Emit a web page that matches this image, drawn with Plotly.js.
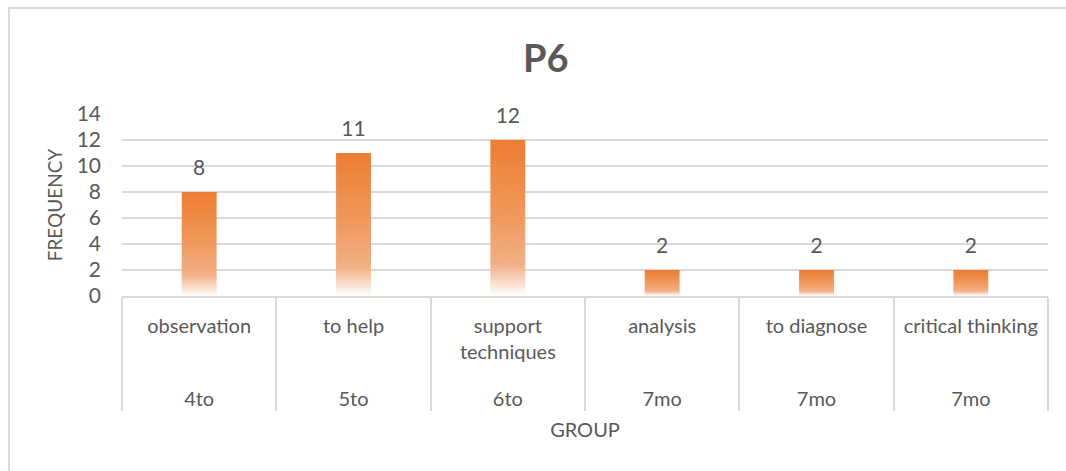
<!DOCTYPE html>
<html>
<head>
<meta charset="utf-8">
<script src="https://cdn.plot.ly/plotly-3.0.1.min.js"></script>
<style>
  html, body { margin: 0; padding: 0; background: #fff; }
  #wrap { position: relative; width: 1066px; height: 471px; overflow: hidden; }
  #chart { position: absolute; left: 0; top: 0; width: 1066px; height: 471px; }
  #frame { position: absolute; left: 8px; top: 7px; width: 1100px; height: 500px;
           border: 2px solid #D9D9D9; pointer-events: none; box-sizing: border-box; }
</style>
</head>
<body>
<div id="wrap">
  <div id="chart"></div>
  <div id="frame"></div>
</div>
<script>
// ---- data ----
const groups = ["4to", "5to", "6to", "7mo", "7mo\u200b", "7mo\u200b\u200b"];
const categories = ["observation", "to help", "support<br>techniques", "analysis", "to diagnose", "critical thinking"];
const frequency = [8, 11, 12, 2, 2, 2];
const chartTitle = "P6";
const yTitle = "FREQUENCY";
const xTitle = "GROUP";

const textColor = "#595959";
const fontFam = "Lato, 'Liberation Sans', sans-serif";

// pad inner labels so the outer level sits lower (as in the reference)
const padLine = "<br><span style='font-size:48px'>\u00a0</span>";
const innerLabels = categories.map(c => c.indexOf("<br>") >= 0 ? c + padLine : c + "<br>\u00a0" + padLine);

const bars = {
  type: "bar",
  x: [groups, innerLabels],
  y: frequency,
  marker: { color: "#ED7D31", line: { width: 0 } },
  hoverinfo: "skip"
};
const labels = {
  type: "scatter",
  mode: "markers+text",
  x: [groups, innerLabels],
  y: frequency,
  text: frequency.map(v => String(v)),
  textposition: "top center",
  marker: { size: 18, opacity: 0, color: "#ffffff" },
  textfont: { family: fontFam, size: 21, color: textColor },
  hoverinfo: "skip",
  cliponaxis: false
};

const layout = {
  width: 1066, height: 471,
  margin: { l: 122, r: 18, t: 114, b: 175 },
  paper_bgcolor: "rgba(0,0,0,0)",
  plot_bgcolor: "#fff",
  showlegend: false,
  bargap: 0.774,
  font: { family: fontFam, color: textColor, size: 20 },
  title: {
    text: "<b>" + chartTitle + "</b>",
    font: { family: fontFam, size: 38, color: textColor },
    x: 0.512, xanchor: "center", y: 0.875, yanchor: "middle"
  },
  xaxis: {
    type: "multicategory",
    showdividers: true,
    dividercolor: "#D9D9D9",
    dividerwidth: 2,
    showline: true, linecolor: "#D9D9D9", linewidth: 2,
    ticks: "",
    showgrid: false,
    ticklabelstandoff: 11,
    tickfont: { family: fontFam, size: 20, color: textColor },
    title: { text: xTitle, font: { family: fontFam, size: 20, color: textColor }, standoff: 14 }
  },
  yaxis: {
    range: [0, 14],
    dtick: 2,
    showgrid: true, gridcolor: "#D9D9D9", gridwidth: 2,
    zeroline: false,
    showline: false,
    ticks: "",
    ticklabelstandoff: 20,
    tickfont: { family: fontFam, size: 21, color: textColor },
    title: { text: yTitle, font: { family: fontFam, size: 19, color: textColor }, standoff: 8 }
  }
};

Plotly.newPlot("chart", [bars, labels], layout, { staticPlot: true, displayModeBar: false }).then(gd => {
  const svg = gd.querySelector(".main-svg");
  const NS = "http://www.w3.org/2000/svg";
  let defs = svg.querySelector("defs");
  if (!defs) { defs = document.createElementNS(NS, "defs"); svg.insertBefore(defs, svg.firstChild); }
  const lg = document.createElementNS(NS, "linearGradient");
  lg.setAttribute("id", "barGrad");
  lg.setAttribute("x1", "0"); lg.setAttribute("y1", "0");
  lg.setAttribute("x2", "0"); lg.setAttribute("y2", "1");
  [[0, "#ED7D31", 1], [0.5, "#EF9A5E", 1], [0.8, "#F2B086", 1], [1, "#FFFFFF", 1]].forEach(s => {
    const st = document.createElementNS(NS, "stop");
    st.setAttribute("offset", s[0]);
    st.setAttribute("stop-color", s[1]);
    st.setAttribute("stop-opacity", s[2]);
    lg.appendChild(st);
  });
  defs.appendChild(lg);
  gd.querySelectorAll(".bars .point path").forEach(p => { p.style.fill = "url(#barGrad)"; });
});
</script>
</body>
</html>
